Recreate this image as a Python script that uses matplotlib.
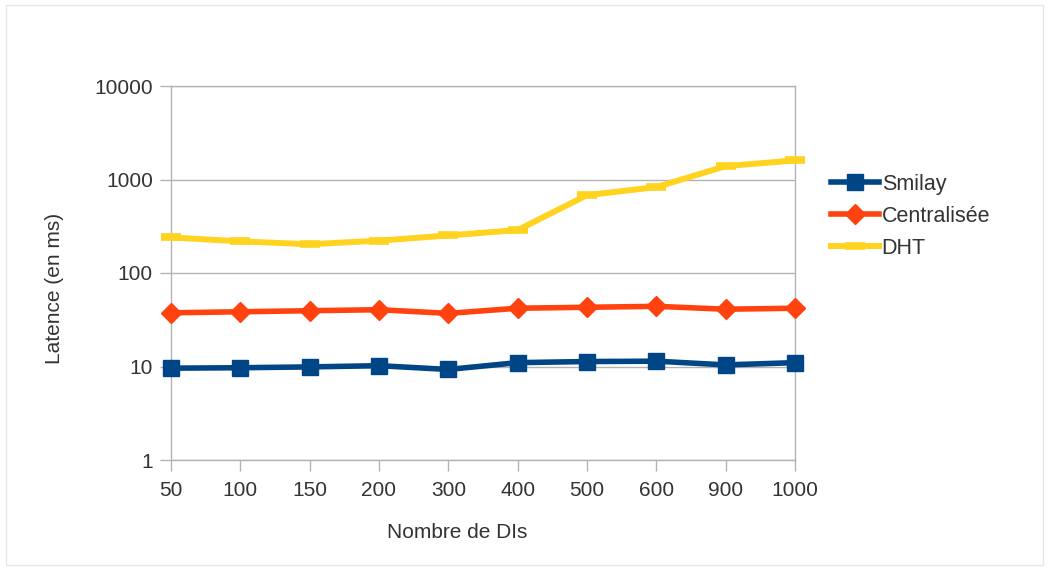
import matplotlib
matplotlib.use("Agg")
import matplotlib.pyplot as plt
from matplotlib.patches import Rectangle
from matplotlib.ticker import FixedLocator, NullLocator

plt.rcParams['font.family'] = ['Liberation Sans', 'DejaVu Sans']

categories = ["50", "100", "150", "200", "300", "400", "500", "600", "900", "1000"]
smilay = [9.6, 9.7, 9.9, 10.2, 9.3, 11.0, 11.3, 11.4, 10.4, 11.0]
centralisee = [37.5, 38.5, 39.5, 40.5, 37.0, 42.0, 43.0, 44.0, 41.0, 42.0]
dht = [240, 218, 203, 222, 252, 288, 680, 830, 1390, 1600]
y_ticks = [1, 10, 100, 1000, 10000]

text_col = "#333333"
grid_col = "#b3b3b3"
W, H = 1049, 570

fig = plt.figure(figsize=(W / 100, H / 100), dpi=100)
fig.patches.append(Rectangle((6 / W, 5 / H), 1037 / W, 560 / H,
                             transform=fig.transFigure, fill=False,
                             edgecolor="#e6e6e6", linewidth=1))

ax = fig.add_axes([171 / W, 110 / H, 624 / W, 374 / H])
x = list(range(len(categories)))

ax.plot(x, smilay, color="#004586", lw=4.0, marker="s", ms=11.5,
        label="Smilay", clip_on=False, zorder=5)
ax.plot(x, centralisee, color="#ff420e", lw=4.0, marker="D", ms=10.5,
        label="Centralisée", clip_on=False, zorder=5)
ax.plot(x, dht, color="#ffd320", lw=4.3, marker="_", ms=15, mew=5.5,
        label="DHT", clip_on=False, zorder=5)

ax.set_yscale("log")
ax.set_ylim(1, 10000)
ax.set_xlim(0, len(categories) - 1)
ax.yaxis.set_major_locator(FixedLocator(y_ticks))
ax.yaxis.set_minor_locator(NullLocator())
ax.set_yticklabels([str(v) for v in y_ticks])
ax.set_xticks(x)
ax.set_xticklabels(categories)

ax.grid(axis="y", color=grid_col, linewidth=1)
ax.set_axisbelow(True)
for s in ["left", "bottom", "right", "top"]:
    ax.spines[s].set_color(grid_col)
    ax.spines[s].set_linewidth(1)
ax.tick_params(axis="both", colors=grid_col, labelcolor=text_col,
               labelsize=15, length=8, width=1, direction="out")
ax.tick_params(axis="x", pad=7)
ax.tick_params(axis="y", pad=5)

fig.text(457 / W, 1 - 532 / H, "Nombre de DIs", fontsize=15, color=text_col,
         ha="center", va="center")
fig.text(55 / W, 1 - 288 / H, "Latence (en ms)", fontsize=15, color=text_col,
         ha="center", va="center", rotation=90)

leg = fig.legend(loc="upper left", bbox_to_anchor=(822 / W, 1 - 165 / H),
                 frameon=False, fontsize=15.5, handlelength=2.25,
                 handletextpad=0.12, labelspacing=0.52, borderaxespad=0)
for t in leg.get_texts():
    t.set_color(text_col)

fig.savefig("out.png", dpi=100)
